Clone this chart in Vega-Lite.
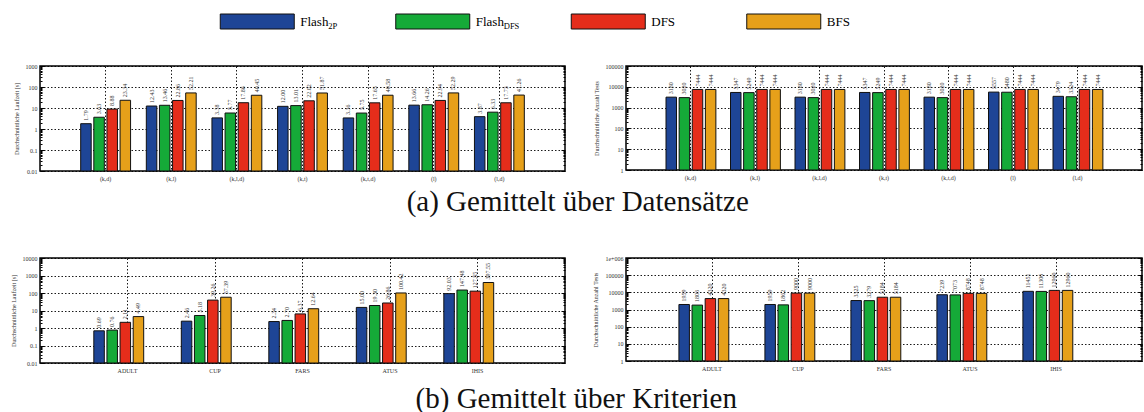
{
  "$schema": "https://vega.github.io/schema/vega-lite/v6.json",
  "background": "white",
  "padding": {"left": 9, "top": 13, "right": 0, "bottom": 0},
  "spacing": 32,
  "datasets": {
    "legende": [
      {"verfahren": "Flash2P", "name": "Flash", "index": "2P"},
      {"verfahren": "FlashDFS", "name": "Flash", "index": "DFS"},
      {"verfahren": "DFS", "name": "DFS", "index": ""},
      {"verfahren": "BFS", "name": "BFS", "index": ""}
    ],
    "laufzeitDatensaetze": [
      {"gruppe": "(k,d)", "verfahren": "Flash2P", "wert": 1.79},
      {"gruppe": "(k,d)", "verfahren": "FlashDFS", "wert": 3.63},
      {"gruppe": "(k,d)", "verfahren": "DFS", "wert": 8.88},
      {"gruppe": "(k,d)", "verfahren": "BFS", "wert": 23.34},
      {"gruppe": "(k,l)", "verfahren": "Flash2P", "wert": 12.43},
      {"gruppe": "(k,l)", "verfahren": "FlashDFS", "wert": 13.46},
      {"gruppe": "(k,l)", "verfahren": "DFS", "wert": 22.86},
      {"gruppe": "(k,l)", "verfahren": "BFS", "wert": 52.21},
      {"gruppe": "(k,l,d)", "verfahren": "Flash2P", "wert": 3.38},
      {"gruppe": "(k,l,d)", "verfahren": "FlashDFS", "wert": 5.77},
      {"gruppe": "(k,l,d)", "verfahren": "DFS", "wert": 17.86},
      {"gruppe": "(k,l,d)", "verfahren": "BFS", "wert": 40.45},
      {"gruppe": "(k,t)", "verfahren": "Flash2P", "wert": 12.00},
      {"gruppe": "(k,t)", "verfahren": "FlashDFS", "wert": 13.01},
      {"gruppe": "(k,t)", "verfahren": "DFS", "wert": 22.02},
      {"gruppe": "(k,t)", "verfahren": "BFS", "wert": 51.87},
      {"gruppe": "(k,t,d)", "verfahren": "Flash2P", "wert": 3.36},
      {"gruppe": "(k,t,d)", "verfahren": "FlashDFS", "wert": 5.75},
      {"gruppe": "(k,t,d)", "verfahren": "DFS", "wert": 17.65},
      {"gruppe": "(k,t,d)", "verfahren": "BFS", "wert": 40.58},
      {"gruppe": "(l)", "verfahren": "Flash2P", "wert": 13.66},
      {"gruppe": "(l)", "verfahren": "FlashDFS", "wert": 14.26},
      {"gruppe": "(l)", "verfahren": "DFS", "wert": 22.94},
      {"gruppe": "(l)", "verfahren": "BFS", "wert": 52.29},
      {"gruppe": "(l,d)", "verfahren": "Flash2P", "wert": 3.87},
      {"gruppe": "(l,d)", "verfahren": "FlashDFS", "wert": 6.33},
      {"gruppe": "(l,d)", "verfahren": "DFS", "wert": 17.73},
      {"gruppe": "(l,d)", "verfahren": "BFS", "wert": 41.26}
    ],
    "testsDatensaetze": [
      {"gruppe": "(k,d)", "verfahren": "Flash2P", "wert": 3180},
      {"gruppe": "(k,d)", "verfahren": "FlashDFS", "wert": 3020},
      {"gruppe": "(k,d)", "verfahren": "DFS", "wert": 7444},
      {"gruppe": "(k,d)", "verfahren": "BFS", "wert": 7444},
      {"gruppe": "(k,l)", "verfahren": "Flash2P", "wert": 5347},
      {"gruppe": "(k,l)", "verfahren": "FlashDFS", "wert": 5249},
      {"gruppe": "(k,l)", "verfahren": "DFS", "wert": 7444},
      {"gruppe": "(k,l)", "verfahren": "BFS", "wert": 7444},
      {"gruppe": "(k,l,d)", "verfahren": "Flash2P", "wert": 3180},
      {"gruppe": "(k,l,d)", "verfahren": "FlashDFS", "wert": 3020},
      {"gruppe": "(k,l,d)", "verfahren": "DFS", "wert": 7444},
      {"gruppe": "(k,l,d)", "verfahren": "BFS", "wert": 7444},
      {"gruppe": "(k,t)", "verfahren": "Flash2P", "wert": 5347},
      {"gruppe": "(k,t)", "verfahren": "FlashDFS", "wert": 5249},
      {"gruppe": "(k,t)", "verfahren": "DFS", "wert": 7444},
      {"gruppe": "(k,t)", "verfahren": "BFS", "wert": 7444},
      {"gruppe": "(k,t,d)", "verfahren": "Flash2P", "wert": 3180},
      {"gruppe": "(k,t,d)", "verfahren": "FlashDFS", "wert": 3020},
      {"gruppe": "(k,t,d)", "verfahren": "DFS", "wert": 7444},
      {"gruppe": "(k,t,d)", "verfahren": "BFS", "wert": 7444},
      {"gruppe": "(l)", "verfahren": "Flash2P", "wert": 5557},
      {"gruppe": "(l)", "verfahren": "FlashDFS", "wert": 5480},
      {"gruppe": "(l)", "verfahren": "DFS", "wert": 7444},
      {"gruppe": "(l)", "verfahren": "BFS", "wert": 7444},
      {"gruppe": "(l,d)", "verfahren": "Flash2P", "wert": 3479},
      {"gruppe": "(l,d)", "verfahren": "FlashDFS", "wert": 3324},
      {"gruppe": "(l,d)", "verfahren": "DFS", "wert": 7444},
      {"gruppe": "(l,d)", "verfahren": "BFS", "wert": 7444}
    ],
    "laufzeitKriterien": [
      {"gruppe": "ADULT", "verfahren": "Flash2P", "wert": 0.69},
      {"gruppe": "ADULT", "verfahren": "FlashDFS", "wert": 0.76},
      {"gruppe": "ADULT", "verfahren": "DFS", "wert": 2.11},
      {"gruppe": "ADULT", "verfahren": "BFS", "wert": 4.49},
      {"gruppe": "CUP", "verfahren": "Flash2P", "wert": 2.46},
      {"gruppe": "CUP", "verfahren": "FlashDFS", "wert": 5.18},
      {"gruppe": "CUP", "verfahren": "DFS", "wert": 39.26},
      {"gruppe": "CUP", "verfahren": "BFS", "wert": 57.39},
      {"gruppe": "FARS", "verfahren": "Flash2P", "wert": 2.34},
      {"gruppe": "FARS", "verfahren": "FlashDFS", "wert": 2.70},
      {"gruppe": "FARS", "verfahren": "DFS", "wert": 6.37},
      {"gruppe": "FARS", "verfahren": "BFS", "wert": 12.64},
      {"gruppe": "ATUS", "verfahren": "Flash2P", "wert": 15.00},
      {"gruppe": "ATUS", "verfahren": "FlashDFS", "wert": 19.30},
      {"gruppe": "ATUS", "verfahren": "DFS", "wert": 26.86},
      {"gruppe": "ATUS", "verfahren": "BFS", "wert": 100.42},
      {"gruppe": "IHIS", "verfahren": "Flash2P", "wert": 92.03},
      {"gruppe": "IHIS", "verfahren": "FlashDFS", "wert": 147.48},
      {"gruppe": "IHIS", "verfahren": "DFS", "wert": 127.55},
      {"gruppe": "IHIS", "verfahren": "BFS", "wert": 397.55}
    ],
    "testsKriterien": [
      {"gruppe": "ADULT", "verfahren": "Flash2P", "wert": 1959},
      {"gruppe": "ADULT", "verfahren": "FlashDFS", "wert": 1803},
      {"gruppe": "ADULT", "verfahren": "DFS", "wert": 4320},
      {"gruppe": "ADULT", "verfahren": "BFS", "wert": 4320},
      {"gruppe": "CUP", "verfahren": "Flash2P", "wert": 1959},
      {"gruppe": "CUP", "verfahren": "FlashDFS", "wert": 1862},
      {"gruppe": "CUP", "verfahren": "DFS", "wert": 9000},
      {"gruppe": "CUP", "verfahren": "BFS", "wert": 9000},
      {"gruppe": "FARS", "verfahren": "Flash2P", "wert": 3325},
      {"gruppe": "FARS", "verfahren": "FlashDFS", "wert": 3279},
      {"gruppe": "FARS", "verfahren": "DFS", "wert": 5184},
      {"gruppe": "FARS", "verfahren": "BFS", "wert": 5184},
      {"gruppe": "ATUS", "verfahren": "Flash2P", "wert": 7239},
      {"gruppe": "ATUS", "verfahren": "FlashDFS", "wert": 7073},
      {"gruppe": "ATUS", "verfahren": "DFS", "wert": 8748},
      {"gruppe": "ATUS", "verfahren": "BFS", "wert": 8748},
      {"gruppe": "IHIS", "verfahren": "Flash2P", "wert": 11451},
      {"gruppe": "IHIS", "verfahren": "FlashDFS", "wert": 11306},
      {"gruppe": "IHIS", "verfahren": "DFS", "wert": 12960},
      {"gruppe": "IHIS", "verfahren": "BFS", "wert": 12960}
    ]
  },
  "config": {
    "font": "Liberation Serif",
    "view": {"stroke": "#000", "strokeWidth": 1.5},
    "axis": {
      "labelFont": "Liberation Serif", "titleFont": "Liberation Serif",
      "labelFontSize": 6, "titleFontSize": 6, "titleFontWeight": "normal",
      "labelColor": "#333", "titleColor": "#333", "tickColor": "#000",
      "gridColor": "#000", "gridDash": [1.5, 2], "gridWidth": 0.9, "domain": false
    },
    "axisX": {"ticks": false, "labelAngle": 0, "labelPadding": 4, "bandPosition": 0.5, "grid": true}
  },
  "vconcat": [
    {
      "width": 1053, "height": 15,
      "view": {"stroke": null},
      "data": {"name": "legende"},
      "encoding": {
        "x": {"field": "verfahren", "type": "nominal", "sort": null, "scale": {"paddingInner": 0, "paddingOuter": 1}, "axis": null}
      },
      "layer": [
        {
          "mark": {"type": "bar", "width": 74, "xOffset": -46, "stroke": "#111", "strokeWidth": 1},
          "encoding": {"color": {"field": "verfahren", "type": "nominal", "scale": {"domain": ["Flash2P", "FlashDFS", "DFS", "BFS"], "range": ["#1e4596", "#15aa38", "#e52d1b", "#e6a01a"]}, "legend": null}}
        },
        {
          "mark": {"type": "text", "align": "left", "baseline": "alphabetic", "dx": -3, "dy": 4, "font": "Liberation Serif", "fontSize": 13, "color": "#000"},
          "encoding": {"text": {"field": "name"}}
        },
        {
          "mark": {"type": "text", "align": "left", "baseline": "alphabetic", "dx": 25, "dy": 7, "font": "Liberation Serif", "fontSize": 8.5, "color": "#000"},
          "encoding": {"text": {"field": "index"}}
        }
      ]
    },
    {
      "spacing": 37,
      "vconcat": [
        {
          "spacing": 25,
          "title": {"text": "(a) Gemittelt über Datensätze", "orient": "bottom", "anchor": "middle", "font": "Liberation Serif", "fontSize": 29, "fontWeight": "normal", "color": "#111", "offset": 6},
          "hconcat": [
            {
              "width": 525, "height": 105,
              "data": {"name": "laufzeitDatensaetze"},
              "encoding": {
                "x": {"field": "gruppe", "type": "nominal", "sort": null, "scale": {"paddingInner": 0.2, "paddingOuter": 0.6}, "axis": {"title": null}},
                "xOffset": {"field": "verfahren", "type": "nominal", "sort": ["Flash2P", "FlashDFS", "DFS", "BFS"], "scale": {"paddingInner": 0.2, "paddingOuter": 0.1}},
                "y": {"field": "wert", "type": "quantitative", "scale": {"type": "log", "domain": [0.01, 1000]},
                  "axis": {
                    "title": "Durchschnittliche Laufzeit [s]", "titlePadding": 6,
                    "values": [0.01,0.02,0.03,0.04,0.05,0.06,0.07,0.08,0.09,0.1,0.2,0.3,0.4,0.5,0.6,0.7,0.8,0.9,1,2,3,4,5,6,7,8,9,10,20,30,40,50,60,70,80,90,100,200,300,400,500,600,700,800,900,1000],
                    "labelExpr": "abs(log(datum.value)/LN10 - round(log(datum.value)/LN10)) < 0.001 ? toString(datum.value) : ''",
                    "grid": true,
                    "gridOpacity": {"condition": {"test": "abs(log(datum.value)/LN10 - round(log(datum.value)/LN10)) < 0.001", "value": 1}, "value": 0},
                    "tickSize": {"condition": {"test": "abs(log(datum.value)/LN10 - round(log(datum.value)/LN10)) < 0.001", "value": -4}, "value": -2},
                    "labelPadding": 7
                  }
                }
              },
              "layer": [
                {
                  "mark": {"type": "bar", "stroke": "#111", "strokeWidth": 1},
                  "encoding": {"y2": {"datum": 0.01}, "color": {"field": "verfahren", "type": "nominal", "legend": null}}
                },
                {
                  "mark": {"type": "text", "angle": 270, "align": "left", "baseline": "middle", "dx": 3, "font": "Liberation Serif", "fontSize": 6, "color": "#333"},
                  "encoding": {
                    "y": {"field": "wert", "type": "quantitative",
                      "axis": {
                        "orient": "right", "labels": false, "grid": false, "title": null,
                        "values": [0.01,0.02,0.03,0.04,0.05,0.06,0.07,0.08,0.09,0.1,0.2,0.3,0.4,0.5,0.6,0.7,0.8,0.9,1,2,3,4,5,6,7,8,9,10,20,30,40,50,60,70,80,90,100,200,300,400,500,600,700,800,900,1000],
                        "tickSize": {"condition": {"test": "abs(log(datum.value)/LN10 - round(log(datum.value)/LN10)) < 0.001", "value": -4}, "value": -2}
                      }
                    },
                    "text": {"field": "wert", "type": "quantitative", "format": ".2f"}
                  }
                }
              ],
              "resolve": {"axis": {"y": "independent"}}
            },
            {
              "width": 516, "height": 104,
              "data": {"name": "testsDatensaetze"},
              "encoding": {
                "x": {"field": "gruppe", "type": "nominal", "sort": null, "scale": {"paddingInner": 0.2, "paddingOuter": 0.6}, "axis": {"title": null}},
                "xOffset": {"field": "verfahren", "type": "nominal", "sort": ["Flash2P", "FlashDFS", "DFS", "BFS"], "scale": {"paddingInner": 0.2, "paddingOuter": 0.1}},
                "y": {"field": "wert", "type": "quantitative", "scale": {"type": "log", "domain": [1, 100000]},
                  "axis": {
                    "title": "Durchschnittliche Anzahl Tests", "titlePadding": 6,
                    "values": [1,2,3,4,5,6,7,8,9,10,20,30,40,50,60,70,80,90,100,200,300,400,500,600,700,800,900,1000,2000,3000,4000,5000,6000,7000,8000,9000,10000,20000,30000,40000,50000,60000,70000,80000,90000,100000],
                    "labelExpr": "abs(log(datum.value)/LN10 - round(log(datum.value)/LN10)) < 0.001 ? toString(datum.value) : ''",
                    "grid": true,
                    "gridOpacity": {"condition": {"test": "abs(log(datum.value)/LN10 - round(log(datum.value)/LN10)) < 0.001", "value": 1}, "value": 0},
                    "tickSize": {"condition": {"test": "abs(log(datum.value)/LN10 - round(log(datum.value)/LN10)) < 0.001", "value": -4}, "value": -2},
                    "labelPadding": 7
                  }
                }
              },
              "layer": [
                {
                  "mark": {"type": "bar", "stroke": "#111", "strokeWidth": 1},
                  "encoding": {"y2": {"datum": 1}, "color": {"field": "verfahren", "type": "nominal", "legend": null}}
                },
                {
                  "mark": {"type": "text", "angle": 270, "align": "left", "baseline": "middle", "dx": 3, "font": "Liberation Serif", "fontSize": 6, "color": "#333"},
                  "encoding": {
                    "y": {"field": "wert", "type": "quantitative",
                      "axis": {
                        "orient": "right", "labels": false, "grid": false, "title": null,
                        "values": [1,2,3,4,5,6,7,8,9,10,20,30,40,50,60,70,80,90,100,200,300,400,500,600,700,800,900,1000,2000,3000,4000,5000,6000,7000,8000,9000,10000,20000,30000,40000,50000,60000,70000,80000,90000,100000],
                        "tickSize": {"condition": {"test": "abs(log(datum.value)/LN10 - round(log(datum.value)/LN10)) < 0.001", "value": -4}, "value": -2}
                      }
                    },
                    "text": {"field": "wert", "type": "quantitative", "format": "d"}
                  }
                }
              ],
              "resolve": {"axis": {"y": "independent"}}
            }
          ]
        },
        {
          "spacing": 25,
          "title": {"text": "(b) Gemittelt über Kriterien", "orient": "bottom", "anchor": "middle", "font": "Liberation Serif", "fontSize": 29, "fontWeight": "normal", "color": "#111", "offset": 11},
          "hconcat": [
            {
              "width": 525, "height": 105,
              "data": {"name": "laufzeitKriterien"},
              "encoding": {
                "x": {"field": "gruppe", "type": "nominal", "sort": null, "scale": {"paddingInner": 0.2, "paddingOuter": 0.6}, "axis": {"title": null}},
                "xOffset": {"field": "verfahren", "type": "nominal", "sort": ["Flash2P", "FlashDFS", "DFS", "BFS"], "scale": {"paddingInner": 0.2, "paddingOuter": 0.1}},
                "y": {"field": "wert", "type": "quantitative", "scale": {"type": "log", "domain": [0.01, 10000]},
                  "axis": {
                    "title": "Durchschnittliche Laufzeit [s]", "titlePadding": 6,
                    "values": [0.01,0.02,0.03,0.04,0.05,0.06,0.07,0.08,0.09,0.1,0.2,0.3,0.4,0.5,0.6,0.7,0.8,0.9,1,2,3,4,5,6,7,8,9,10,20,30,40,50,60,70,80,90,100,200,300,400,500,600,700,800,900,1000,2000,3000,4000,5000,6000,7000,8000,9000,10000],
                    "labelExpr": "abs(log(datum.value)/LN10 - round(log(datum.value)/LN10)) < 0.001 ? toString(datum.value) : ''",
                    "grid": true,
                    "gridOpacity": {"condition": {"test": "abs(log(datum.value)/LN10 - round(log(datum.value)/LN10)) < 0.001", "value": 1}, "value": 0},
                    "tickSize": {"condition": {"test": "abs(log(datum.value)/LN10 - round(log(datum.value)/LN10)) < 0.001", "value": -4}, "value": -2},
                    "labelPadding": 7
                  }
                }
              },
              "layer": [
                {
                  "mark": {"type": "bar", "stroke": "#111", "strokeWidth": 1},
                  "encoding": {"y2": {"datum": 0.01}, "color": {"field": "verfahren", "type": "nominal", "legend": null}}
                },
                {
                  "mark": {"type": "text", "angle": 270, "align": "left", "baseline": "middle", "dx": 3, "font": "Liberation Serif", "fontSize": 6, "color": "#333"},
                  "encoding": {
                    "y": {"field": "wert", "type": "quantitative",
                      "axis": {
                        "orient": "right", "labels": false, "grid": false, "title": null,
                        "values": [0.01,0.02,0.03,0.04,0.05,0.06,0.07,0.08,0.09,0.1,0.2,0.3,0.4,0.5,0.6,0.7,0.8,0.9,1,2,3,4,5,6,7,8,9,10,20,30,40,50,60,70,80,90,100,200,300,400,500,600,700,800,900,1000,2000,3000,4000,5000,6000,7000,8000,9000,10000],
                        "tickSize": {"condition": {"test": "abs(log(datum.value)/LN10 - round(log(datum.value)/LN10)) < 0.001", "value": -4}, "value": -2}
                      }
                    },
                    "text": {"field": "wert", "type": "quantitative", "format": ".2f"}
                  }
                }
              ],
              "resolve": {"axis": {"y": "independent"}}
            },
            {
              "width": 516, "height": 103,
              "data": {"name": "testsKriterien"},
              "encoding": {
                "x": {"field": "gruppe", "type": "nominal", "sort": null, "scale": {"paddingInner": 0.2, "paddingOuter": 0.6}, "axis": {"title": null}},
                "xOffset": {"field": "verfahren", "type": "nominal", "sort": ["Flash2P", "FlashDFS", "DFS", "BFS"], "scale": {"paddingInner": 0.2, "paddingOuter": 0.1}},
                "y": {"field": "wert", "type": "quantitative", "scale": {"type": "log", "domain": [1, 1000000]},
                  "axis": {
                    "title": "Durchschnittliche Anzahl Tests", "titlePadding": 6,
                    "values": [1,2,3,4,5,6,7,8,9,10,20,30,40,50,60,70,80,90,100,200,300,400,500,600,700,800,900,1000,2000,3000,4000,5000,6000,7000,8000,9000,10000,20000,30000,40000,50000,60000,70000,80000,90000,100000,200000,300000,400000,500000,600000,700000,800000,900000,1000000],
                    "labelExpr": "datum.value >= 999999 ? '1e+006' : (abs(log(datum.value)/LN10 - round(log(datum.value)/LN10)) < 0.001 ? toString(datum.value) : '')",
                    "grid": true,
                    "gridOpacity": {"condition": {"test": "abs(log(datum.value)/LN10 - round(log(datum.value)/LN10)) < 0.001", "value": 1}, "value": 0},
                    "tickSize": {"condition": {"test": "abs(log(datum.value)/LN10 - round(log(datum.value)/LN10)) < 0.001", "value": -4}, "value": -2},
                    "labelPadding": 7
                  }
                }
              },
              "layer": [
                {
                  "mark": {"type": "bar", "stroke": "#111", "strokeWidth": 1},
                  "encoding": {"y2": {"datum": 1}, "color": {"field": "verfahren", "type": "nominal", "legend": null}}
                },
                {
                  "mark": {"type": "text", "angle": 270, "align": "left", "baseline": "middle", "dx": 3, "font": "Liberation Serif", "fontSize": 6, "color": "#333"},
                  "encoding": {
                    "y": {"field": "wert", "type": "quantitative",
                      "axis": {
                        "orient": "right", "labels": false, "grid": false, "title": null,
                        "values": [1,2,3,4,5,6,7,8,9,10,20,30,40,50,60,70,80,90,100,200,300,400,500,600,700,800,900,1000,2000,3000,4000,5000,6000,7000,8000,9000,10000,20000,30000,40000,50000,60000,70000,80000,90000,100000,200000,300000,400000,500000,600000,700000,800000,900000,1000000],
                        "tickSize": {"condition": {"test": "abs(log(datum.value)/LN10 - round(log(datum.value)/LN10)) < 0.001", "value": -4}, "value": -2}
                      }
                    },
                    "text": {"field": "wert", "type": "quantitative", "format": "d"}
                  }
                }
              ],
              "resolve": {"axis": {"y": "independent"}}
            }
          ]
        }
      ]
    }
  ]
}
